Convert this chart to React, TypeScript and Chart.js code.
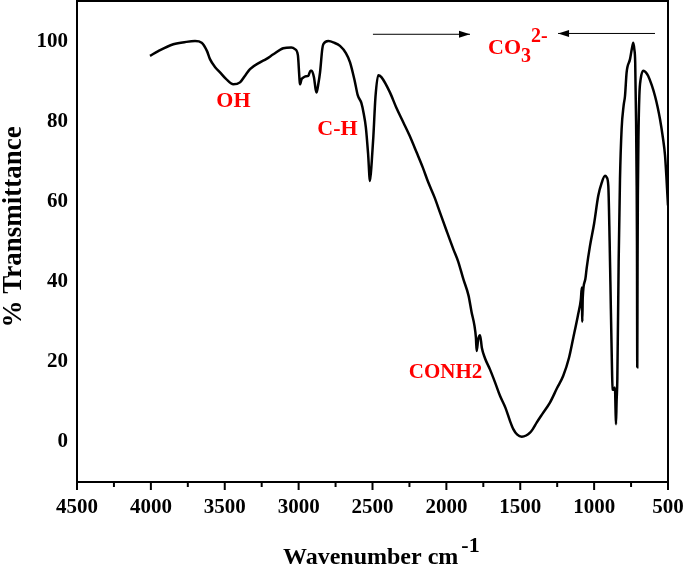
import React, { useEffect, useRef } from "react";
import { Chart, registerables } from "chart.js";

Chart.register(...registerables);

const wavenumbers: number[] = [
  4006, 3950, 3848, 3760, 3701, 3656, 3620, 3600, 3565, 3532, 3490, 3442, 3397, 3360, 3329, 3261,
  3220, 3171, 3104, 3050, 3025, 3005, 2995, 2991, 2980, 2968, 2950, 2935, 2920, 2912, 2896, 2885,
  2878, 2868, 2855, 2840, 2833, 2799, 2760, 2720, 2680, 2652, 2620, 2600, 2575, 2560, 2545, 2530,
  2517, 2505, 2494, 2480, 2461, 2440, 2382, 2340, 2291, 2250, 2201, 2160, 2122, 2080, 2043, 2000,
  1953, 1920, 1885, 1850, 1829, 1810, 1800, 1795, 1785, 1772, 1760, 1740, 1705, 1670, 1637, 1600,
  1569, 1547, 1520, 1490, 1460, 1434, 1415, 1389, 1350, 1299, 1250, 1209, 1170, 1141, 1110, 1090,
  1083, 1080, 1077, 1060, 1050, 1028, 1000, 972, 950, 926, 915, 904, 895, 890, 880, 875,
  865, 859, 855, 852, 848, 843, 834, 825, 814, 800, 791, 780, 757, 745, 735, 728,
  722, 716, 712, 710, 708, 706, 704, 700, 694, 685, 667, 650, 634, 610, 588, 570,
  554, 535, 520, 500,
];

const transmittance: number[] = [
  96.3, 97.5, 99.2, 99.8, 100.0, 99.6, 97.5, 95.5, 93.5, 92.2, 90.5, 89.2, 89.7, 91.5, 93.0, 94.7,
  95.5, 96.7, 98.2, 98.4, 98.0, 96.5, 91.0, 89.2, 90.5, 90.9, 91.2, 91.3, 92.6, 92.6, 90.9, 88.0,
  87.2, 89.0, 92.2, 98.0, 99.2, 100.0, 99.6, 98.8, 97.0, 94.7, 90.0, 86.5, 84.5, 82.0, 78.5, 72.0,
  65.1, 70.0, 76.3, 86.0, 91.5, 91.0, 87.2, 83.5, 79.7, 76.5, 72.2, 68.5, 64.7, 61.0, 57.2, 52.8,
  48.1, 45.0, 40.6, 36.5, 32.3, 29.0, 26.0, 22.7, 25.5, 26.6, 23.5, 21.0, 18.1, 14.8, 11.5, 8.5,
  5.2, 3.2, 1.8, 1.3, 1.6, 2.3, 3.2, 4.8, 7.0, 9.8, 13.5, 16.5, 21.0, 26.0, 31.5, 35.5,
  38.5, 30.0, 36.0, 40.5, 43.5, 48.9, 54.5, 61.4, 64.5, 66.4, 66.0, 63.9, 50.0, 40.0, 20.0, 13.1,
  13.0, 13.6, 8.0, 4.4, 10.0, 15.6, 44.8, 65.5, 78.0, 84.0, 86.3, 92.2, 95.5, 98.0, 99.6, 98.0,
  94.7, 80.0, 63.9, 50.0, 18.6, 45.0, 61.4, 76.0, 86.3, 90.5, 92.6, 92.2, 91.3, 89.0, 86.3, 83.5,
  80.5, 76.0, 71.4, 59.0,
];

const xTickValues: number[] = [4500, 4000, 3500, 3000, 2500, 2000, 1500, 1000, 500];
const yTickValues: number[] = [0, 20, 40, 60, 80, 100];

const SERIF = "'Liberation Serif', 'Times New Roman', serif";

const zeroPad = (s: any) => {
  s.paddingTop = 0;
  s.paddingBottom = 0;
  s.paddingLeft = 0;
  s.paddingRight = 0;
};

const overlayPlugin = {
  id: "overlay",
  afterDraw(chart: any) {
    const ctx = chart.ctx as CanvasRenderingContext2D;
    const { left, right, top, bottom } = chart.chartArea;
    const xs = chart.scales.x;
    const ys = chart.scales.y;
    ctx.save();
    // frame
    ctx.strokeStyle = "#000";
    ctx.lineWidth = 2;
    ctx.strokeRect(left, top, right - left, bottom - top);
    // x ticks (major + minor)
    for (let v = 500; v <= 4500; v += 250) {
      const px = xs.getPixelForValue(v);
      const len = v % 500 === 0 ? 8 : 5;
      ctx.beginPath();
      ctx.moveTo(px, bottom);
      ctx.lineTo(px, bottom + len);
      ctx.stroke();
    }
    // axis titles
    ctx.fillStyle = "#000";
    ctx.font = `bold 27px ${SERIF}`;
    ctx.textAlign = "center";
    ctx.textBaseline = "middle";
    ctx.save();
    ctx.translate(14, 227);
    ctx.rotate(-Math.PI / 2);
    ctx.fillText("% Transmittance", 0, 0);
    ctx.restore();

    ctx.textAlign = "left";
    ctx.textBaseline = "alphabetic";
    ctx.font = `bold 24px ${SERIF}`;
    const main = "Wavenumber cm";
    const w = ctx.measureText(main).width;
    const startX = 283;
    ctx.fillText(main, startX, 564);
    ctx.font = `bold 22px ${SERIF}`;
    ctx.fillText("-1", startX + w + 3, 552);

    // annotations
    ctx.fillStyle = "#ff0000";
    ctx.font = `bold 22px ${SERIF}`;
    ctx.textAlign = "center";
    ctx.textBaseline = "middle";
    ctx.fillText("OH", xs.getPixelForValue(3441), ys.getPixelForValue(84.9));
    ctx.fillText("C-H", xs.getPixelForValue(2737), ys.getPixelForValue(78.1));
    ctx.font = `bold 21px ${SERIF}`;
    ctx.fillText("CONH2", xs.getPixelForValue(2006), ys.getPixelForValue(17.3));

    // CO3 2-
    ctx.textAlign = "left";
    ctx.textBaseline = "alphabetic";
    ctx.font = `bold 22px ${SERIF}`;
    const coX = xs.getPixelForValue(1718);
    const coY = ys.getPixelForValue(96.7);
    ctx.fillText("CO", coX, coY);
    const coW = ctx.measureText("CO").width;
    ctx.font = `bold 20px ${SERIF}`;
    ctx.fillText("3", coX + coW, coY + 8);
    ctx.fillText("2-", coX + coW + 10, coY - 12);

    // arrows
    const arrowY1 = ys.getPixelForValue(101.7);
    const arrowY2 = ys.getPixelForValue(101.9);
    const drawArrow = (x1: number, x2: number, y: number) => {
      ctx.strokeStyle = "#000";
      ctx.fillStyle = "#000";
      ctx.lineWidth = 1;
      ctx.beginPath();
      ctx.moveTo(x1, y);
      ctx.lineTo(x2, y);
      ctx.stroke();
      const dir = x2 > x1 ? 1 : -1;
      ctx.beginPath();
      ctx.moveTo(x2, y);
      ctx.lineTo(x2 - dir * 11, y - 3.5);
      ctx.lineTo(x2 - dir * 11, y + 3.5);
      ctx.closePath();
      ctx.fill();
    };
    drawArrow(xs.getPixelForValue(2497), xs.getPixelForValue(1840), arrowY1);
    drawArrow(xs.getPixelForValue(588), xs.getPixelForValue(1244), arrowY2);
    ctx.restore();
  },
};

export default function App() {
  const canvasRef = useRef<HTMLCanvasElement | null>(null);

  useEffect(() => {
    document.body.style.margin = "0";
    const canvas = canvasRef.current;
    if (!canvas) return;
    const data = wavenumbers.map((x, i) => ({ x, y: transmittance[i] }));
    const chart = new Chart(canvas, {
      type: "line",
      data: {
        datasets: [
          {
            data,
            borderColor: "#000",
            borderWidth: 2.5,
            pointRadius: 0,
            fill: false,
            cubicInterpolationMode: "monotone",
          },
        ],
      },
      options: {
        responsive: false,
        animation: false,
        devicePixelRatio: 1,
        layout: { padding: { top: 1, right: 17, left: 0, bottom: 0 } },
        plugins: { legend: { display: false }, tooltip: { enabled: false }, title: { display: false } },
        scales: {
          x: {
            type: "linear",
            reverse: true,
            min: 500,
            max: 4500,
            afterFit: (s: any) => {
              s.height = 85;
              zeroPad(s);
            },
            afterBuildTicks: (s: any) => {
              s.ticks = xTickValues.map((v) => ({ value: v }));
            },
            grid: { display: false, drawTicks: false },
            border: { display: true, color: "#000", width: 2 },
            ticks: {
              color: "#000",
              padding: 13,
              maxRotation: 0,
              autoSkip: false,
              callback: (v: any) => String(v),
              font: { family: SERIF, size: 21, weight: "bold" },
            },
          },
          y: {
            type: "linear",
            min: -10,
            max: 110,
            afterFit: (s: any) => {
              s.width = 77;
              zeroPad(s);
            },
            afterBuildTicks: (s: any) => {
              s.ticks = yTickValues.map((v) => ({ value: v }));
            },
            grid: { display: false, drawTicks: false },
            border: { display: true, color: "#000", width: 2 },
            ticks: {
              color: "#000",
              padding: 9,
              autoSkip: false,
              callback: (v: any) => String(v),
              font: { family: SERIF, size: 21, weight: "bold" },
            },
          },
        },
      },
      plugins: [overlayPlugin],
    } as any);
    return () => chart.destroy();
  }, []);

  return (
    <canvas
      ref={canvasRef}
      width={685}
      height={567}
      style={{ display: "block", width: 685, height: 567 }}
    />
  );
}
